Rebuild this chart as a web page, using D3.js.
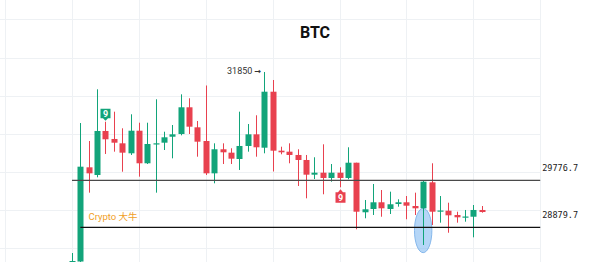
<!DOCTYPE html>
<html>
<head>
<meta charset="utf-8">
<script src="https://cdn.jsdelivr.net/npm/d3@7"></script>
<style>
  body { margin: 0; background: #fff; }
  svg { display: block; }
</style>
</head>
<body>
<div id="chart"></div>
<script>
// BTC candles
var opens  = [28100, 28225, 30027, 29880, 30722, 30569, 30486, 30295, 30727, 30104,
              30477, 30498, 30612, 30664, 31175, 30792, 30530, 29912, 30372, 30307,
              30186, 30435, 30658, 30402, 31473, 30345, 30326, 30263, 30167, 29886,
              29924, 29823, 29924, 29823, 30115, 29167, 29230, 29358, 29230, 29325,
              29358, 29287, 29243, 29740, 29192, 29197, 29115, 29077, 29082, 29211];
var closes = [28235, 30039, 29912, 30722, 30563, 30498, 30307, 30727, 30104, 30473,
              30486, 30601, 30658, 31175, 30804, 30517, 29912, 30372, 30314, 30192,
              30435, 30658, 30410, 31473, 30345, 30314, 30263, 30167, 29886, 29924,
              29823, 29924, 29823, 30115, 29178, 29224, 29358, 29243, 29320, 29358,
              29293, 29243, 29752, 29178, 29201, 29109, 29071, 29086, 29211, 29172];
var highs  = [28388, 30874, 30530, 31519, 30899, 31091, 30773, 31041, 30880, 30880,
              31328, 30708, 30836, 31423, 31347, 30913, 31592, 30486, 30486, 30391,
              31091, 30855, 31022, 31850, 31697, 30421, 30486, 30372, 30263, 30219,
              30467, 30090, 30027, 30410, 30115, 29402, 29708, 29593, 29561, 29415,
              29478, 29542, 29771, 30104, 29478, 29350, 29178, 29211, 29306, 29287];
var lows   = [28050, 28200, 29542, 29836, 30282, 30326, 29943, 30263, 29848, 30090,
              29542, 30358, 30199, 30639, 30664, 30230, 29880, 29721, 30090, 30090,
              29976, 30326, 30230, 30295, 29947, 30276, 30104, 29670, 29434, 29803,
              29511, 29752, 29645, 29798, 28842, 29052, 29115, 29082, 29134, 29274,
              29033, 29115, 28541, 28924, 28968, 28776, 28968, 28987, 28688, 29159];

// horizontal levels (price, first candle index)
var levelPrices = [29776.7, 28879.7];
var levelStart = [0, 1];
var levelLabels = ["29776.7", "28879.7"];

// faint price grid
var gridPrices = [28480, 29210, 29940, 30665, 31395, 32125, 32855];

// "9" signals
var signalIdx = [4, 32];
var signalDir = ["up", "down"];
var signalText = ["9", "9"];

var peakIdx = 23;
var peakText = "31850";
var ellipseIdx = 42;
var ellipseTop = 29243, ellipseBottom = 28395;
var noteText = "Crypto 大牛";

var W = 600, H = 262;
var green = "#12a47a", red = "#e8414f";

var x = d3.scaleLinear().domain([0, 49]).range([72, 481.7]);
var y = d3.scaleLinear().domain([28216, 33227]).range([H, 0]);
var rightEdge = x(56);
var bodyW = 6;

var svg = d3.select("#chart").append("svg")
  .attr("width", W).attr("height", H);

svg.append("rect").attr("width", W).attr("height", H).attr("fill", "#fff");

// grid
var grid = svg.append("g").attr("stroke", "#eef1f4").attr("stroke-width", 1);
grid.selectAll("line.h").data(gridPrices).enter().append("line")
  .attr("x1", 0).attr("x2", rightEdge)
  .attr("y1", function(d) { return Math.round(y(d)) + 0.5; })
  .attr("y2", function(d) { return Math.round(y(d)) + 0.5; });
grid.selectAll("line.v").data(d3.range(-8, 57, 8)).enter().append("line")
  .attr("y1", 0).attr("y2", H)
  .attr("x1", function(d) { return Math.round(x(d)) + 0.5; })
  .attr("x2", function(d) { return Math.round(x(d)) + 0.5; });

// title
svg.append("text").attr("x", 315).attr("y", 37.5)
  .attr("text-anchor", "middle")
  .style("font", "bold 16px Roboto, 'Noto Sans', sans-serif")
  .attr("fill", "#111").text("BTC");

// highlight ellipse
svg.append("ellipse")
  .attr("cx", x(ellipseIdx))
  .attr("cy", (y(ellipseTop) + y(ellipseBottom)) / 2)
  .attr("rx", 8.7)
  .attr("ry", (y(ellipseBottom) - y(ellipseTop)) / 2)
  .attr("fill", "rgba(120,180,240,0.55)")
  .attr("stroke", "#86b8ec").attr("stroke-width", 1);

// candles
var idx = d3.range(opens.length);
var candles = svg.append("g").selectAll("g").data(idx).enter().append("g");
candles.append("line")
  .attr("x1", function(i) { return Math.round(x(i)) + 0.5; })
  .attr("x2", function(i) { return Math.round(x(i)) + 0.5; })
  .attr("y1", function(i) { return y(highs[i]); })
  .attr("y2", function(i) { return y(lows[i]); })
  .attr("stroke", function(i) { return closes[i] >= opens[i] ? green : red; })
  .attr("stroke-width", 1);
candles.append("rect")
  .attr("x", function(i) { return Math.round(x(i)) + 0.5 - bodyW / 2; })
  .attr("y", function(i) { return y(Math.max(opens[i], closes[i])); })
  .attr("width", bodyW)
  .attr("height", function(i) {
    return Math.max(1.2, Math.abs(y(opens[i]) - y(closes[i])));
  })
  .attr("fill", function(i) { return closes[i] >= opens[i] ? green : red; });

// level lines + labels
var levels = svg.append("g");
levels.selectAll("line").data(levelPrices).enter().append("line")
  .attr("x1", function(d, k) { return x(levelStart[k]); })
  .attr("x2", rightEdge)
  .attr("y1", function(d) { return y(d); })
  .attr("y2", function(d) { return y(d); })
  .attr("stroke", function(d, k) { return k == 0 ? "#4a4a4a" : "#111"; })
  .attr("stroke-width", 1.3);
levels.selectAll("text").data(levelPrices).enter().append("text")
  .attr("x", rightEdge + 2)
  .attr("y", function(d) { return y(d) - 9; })
  .style("font", "8.5px 'DejaVu Sans Mono', monospace")
  .attr("fill", "#222")
  .text(function(d, k) { return levelLabels[k]; });

// peak label with arrow
var peak = svg.append("text")
  .attr("x", x(peakIdx) - 3)
  .attr("y", y(highs[peakIdx]) + 2)
  .attr("text-anchor", "end")
  .style("font", "9px Roboto, sans-serif")
  .attr("fill", "#333");
peak.append("tspan").text(peakText + " ");
peak.append("tspan").style("font", "bold 8px 'DejaVu Sans', sans-serif").text("\u2192");

// note
svg.append("text")
  .attr("x", 88.5).attr("y", 220)
  .style("font", "9.5px Roboto, 'Noto Sans CJK SC', sans-serif")
  .attr("fill", "#f0a028")
  .text(noteText);

// "9" badges
var badges = svg.append("g").selectAll("g").data(signalIdx).enter().append("g")
  .attr("transform", function(i, k) {
    var cx = Math.round(x(i)) + 0.5;
    var tip = signalDir[k] == "up" ? y(highs[i]) - 1 : y(lows[i]) + 2;
    return "translate(" + cx + "," + tip + ")";
  });
badges.append("path")
  .attr("d", function(i, k) {
    if (signalDir[k] == "up")
      return "M0,0 L-2.5,-2.5 L-5,-2.5 L-5,-12 L5,-12 L5,-2.5 L2.5,-2.5 Z";
    return "M0,0 L-2.5,3 L-5,3 L-5,13.5 L5,13.5 L5,3 L2.5,3 Z";
  })
  .attr("fill", function(i, k) { return signalDir[k] == "up" ? green : red; });
badges.append("text")
  .attr("y", function(i, k) { return signalDir[k] == "up" ? -3.8 : 11.8; })
  .attr("text-anchor", "middle")
  .style("font", "bold 9px Roboto, sans-serif")
  .attr("fill", "#fff")
  .text(function(i, k) { return signalText[k]; });
</script>
</body>
</html>
